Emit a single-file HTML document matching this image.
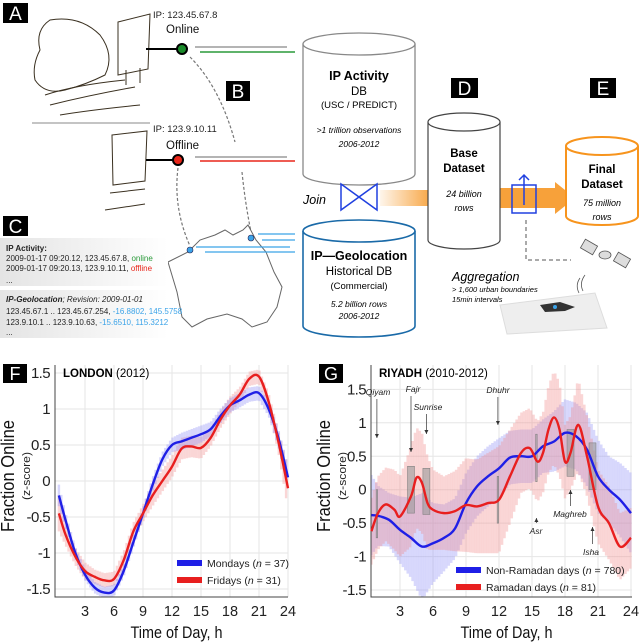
<!DOCTYPE html>
<html><head><meta charset="utf-8">
<style>
html,body{margin:0;padding:0;background:#fff;}
svg{display:block;font-family:"Liberation Sans",sans-serif;}
</style></head>
<body>
<svg id="fig" width="640" height="643" viewBox="0 0 640 643" xmlns="http://www.w3.org/2000/svg">
<defs>
<linearGradient id="og" x1="0" x2="1" y1="0" y2="0"><stop offset="0" stop-color="#f7a13a" stop-opacity="0.1"/><stop offset="1" stop-color="#f7a13a" stop-opacity="0.9"/></linearGradient>
<linearGradient id="cg" x1="0" x2="1"><stop offset="0" stop-color="#e4e4e4"/><stop offset="1" stop-color="#fff"/></linearGradient>
<clipPath id="clipF"><rect x="55" y="365" width="234" height="232"/></clipPath>
<clipPath id="clipG"><rect x="371" y="365" width="262" height="232"/></clipPath>
</defs>
<g><rect x="3" y="3" width="25" height="20" fill="#000"/><text x="15.5" y="20" fill="#fff" font-size="19" text-anchor="middle">A</text></g>
<g><rect x="226" y="81" width="24" height="20" fill="#000"/><text x="238" y="98" fill="#fff" font-size="19" text-anchor="middle">B</text></g>
<g><rect x="3" y="216" width="25" height="20" fill="#000"/><text x="15.5" y="233" fill="#fff" font-size="19" text-anchor="middle">C</text></g>
<g><rect x="451" y="78" width="27" height="20" fill="#000"/><text x="464.5" y="95" fill="#fff" font-size="19" text-anchor="middle">D</text></g>
<g><rect x="590" y="78" width="26" height="20" fill="#000"/><text x="603" y="95" fill="#fff" font-size="19" text-anchor="middle">E</text></g>

<g stroke="#3a3020" fill="none" stroke-width="1">
<path d="M50 20 q-15 10 -10 30 q-8 15 -5 30 q10 15 30 10 q20 -5 40 -15 q10 -20 -5 -40 q-20 -20 -50 -15z"/>
<path d="M45 95 q30 -10 80 -15 M50 105 q40 -10 85 -18 M60 115 q30 -5 80 -10"/>
<path d="M118 22 l32 -8 l-2 55 l-30 6z M126 70 l0 15 M140 68 l0 15"/>
<line x1="32" y1="123" x2="150" y2="123" stroke="#888"/>
<path d="M112 135 l35 -4 l-2 50 l-32 4z M105 210 l40 -6 M110 193 l35 -4"/>
</g>
<g>
<text x="153" y="18" font-size="9.5" fill="#222">IP: 123.45.67.8</text>
<text x="166" y="33" font-size="11.5" fill="#111">Online</text>
<line x1="146" y1="49" x2="177" y2="49" stroke="#000" stroke-width="2"/>
<circle cx="182" cy="49" r="5" fill="#1a8a2a" stroke="#000" stroke-width="2"/>
<line x1="195" y1="47" x2="287" y2="47" stroke="#888" stroke-width="1.3"/>
<line x1="200" y1="52" x2="295" y2="52" stroke="#2a9a3a" stroke-width="1.5"/>
</g>
<g>
<text x="153" y="132" font-size="9.5" fill="#222">IP: 123.9.10.11</text>
<text x="166" y="149" font-size="11.5" fill="#111">Offline</text>
<line x1="146" y1="160" x2="173" y2="160" stroke="#000" stroke-width="2"/>
<circle cx="178" cy="160" r="5" fill="#e8261a" stroke="#000" stroke-width="2"/>
<line x1="195" y1="157" x2="287" y2="157" stroke="#888" stroke-width="1.3"/>
<line x1="200" y1="161" x2="295" y2="161" stroke="#e8261a" stroke-width="1.5"/>
</g>
<g stroke="#777" stroke-dasharray="3,2" fill="none" stroke-width="1.2">
<path d="M190 57 q30 30 45 85"/><path d="M242 172 q3 30 9 60"/><path d="M178 168 q-5 40 12 78"/>
</g>
<path d="M168 262 l20 -10 l12 -12 l15 -5 l10 -5 l8 5 l10 -5 l5 -5 l8 15 l10 12 l8 20 l8 15 l-5 20 l-10 15 l-15 5 l-10 -8 l-15 -5 l-20 5 l-15 8 l-10 -10 l-5 -25z" fill="#fff" stroke="#666" stroke-width="1"/>
<circle cx="190" cy="250" r="3" fill="#3ba3e8" stroke="#225" stroke-width="0.6"/>
<circle cx="251" cy="238" r="3" fill="#3ba3e8" stroke="#225" stroke-width="0.6"/>
<g stroke="#3ba3e8" stroke-width="1.3">
<line x1="258" y1="234" x2="295" y2="234"/><line x1="262" y1="240" x2="295" y2="240"/>
<line x1="196" y1="247" x2="290" y2="247"/><line x1="205" y1="252" x2="295" y2="252"/>
</g>
<g font-size="8" fill="#222">
<rect x="0" y="238" width="168" height="48" fill="url(#cg)"/>
<rect x="0" y="290" width="168" height="48" fill="url(#cg)"/>
<text x="6" y="251" font-weight="bold">IP Activity:</text>
<text x="6" y="261">2009-01-17 09:20.12, 123.45.67.8, <tspan fill="#2a9a3a">online</tspan></text>
<text x="6" y="271">2009-01-17 09:20.13, 123.9.10.11, <tspan fill="#e8261a">offline</tspan></text>
<text x="6" y="283">...</text>
<text x="6" y="302" font-style="italic"><tspan font-weight="bold">IP-Geolocation</tspan>; Revision: 2009-01-01</text>
<text x="6" y="314">123.45.67.1 .. 123.45.67.254, <tspan fill="#3ba3e8">-16.8802, 145.5758</tspan></text>
<text x="6" y="325">123.9.10.1 .. 123.9.10.63, <tspan fill="#3ba3e8">-15.6510, 115.3212</tspan></text>
<text x="6" y="335">...</text>
</g>

<g text-anchor="middle">
<path d="M303 44 v130 a56 11 0 0 0 112 0 v-130" fill="#fff" stroke="#888" stroke-width="1.3"/>
<ellipse cx="359" cy="44" rx="56" ry="11" fill="#fff" stroke="#888" stroke-width="1.3"/>
<text x="359" y="80" font-size="12.5" font-weight="bold">IP Activity</text>
<text x="359" y="95" font-size="11.5">DB</text>
<text x="359" y="108" font-size="9.5">(USC / PREDICT)</text>
<text x="359" y="133" font-size="8.5" font-style="italic">&gt;1 trillion observations</text>
<text x="359" y="147" font-size="8.5" font-style="italic">2006-2012</text>
</g>
<g text-anchor="middle">
<path d="M303 231 v95 a56 11 0 0 0 112 0 v-95" fill="#fff" stroke="#1a6aa8" stroke-width="1.6"/>
<ellipse cx="359" cy="231" rx="56" ry="11" fill="#fff" stroke="#1a6aa8" stroke-width="1.6"/>
<text x="359" y="260" font-size="12.5" font-weight="bold">IP—Geolocation</text>
<text x="359" y="275" font-size="11.5">Historical DB</text>
<text x="359" y="289" font-size="9.5">(Commercial)</text>
<text x="359" y="307" font-size="8.5" font-style="italic">5.2 billion rows</text>
<text x="359" y="319" font-size="8.5" font-style="italic">2006-2012</text>
</g>
<text x="303" y="204" font-size="12.5" font-style="italic">Join</text>
<path d="M341 184 L377 210 L377 184 L341 210 Z" fill="none" stroke="#2040e0" stroke-width="1.5"/>
<rect x="380" y="190" width="48" height="16" fill="url(#og)"/>
<path d="M500 188 h55 v-6 l20 16 l-20 16 v-6 h-55z" fill="#f7a13a"/>
<g text-anchor="middle">
<path d="M428 122 v118 a36 9 0 0 0 72 0 v-118" fill="#fff" stroke="#444" stroke-width="1.2"/>
<ellipse cx="464" cy="122" rx="36" ry="9" fill="#fff" stroke="#444" stroke-width="1.2"/>
<text x="464" y="157" font-size="11.5" font-weight="bold">Base</text>
<text x="464" y="172" font-size="11.5" font-weight="bold">Dataset</text>
<text x="464" y="197" font-size="9" font-style="italic">24 billion</text>
<text x="464" y="211" font-size="9" font-style="italic">rows</text>
</g>
<path d="M512 185 h24 v28 h-24z M524 205 v-30 M519 180 l5 -5 l5 5" fill="none" stroke="#2040e0" stroke-width="1.5"/>
<g text-anchor="middle">
<path d="M566 146 v70 a36 9 0 0 0 72 0 v-70" fill="#fff" stroke="#f7941d" stroke-width="2"/>
<ellipse cx="602" cy="146" rx="36" ry="9" fill="#fff" stroke="#f7941d" stroke-width="2"/>
<text x="602" y="173" font-size="11.5" font-weight="bold">Final</text>
<text x="602" y="188" font-size="11.5" font-weight="bold">Dataset</text>
<text x="602" y="206" font-size="9" font-style="italic">75 million</text>
<text x="602" y="220" font-size="9" font-style="italic">rows</text>
</g>
<path d="M526 220 v40 h45" fill="none" stroke="#555" stroke-dasharray="4,3"/>
<g fill="#ddd" stroke="#555" stroke-width="0.8">
<rect x="582" y="242" width="14" height="10" transform="rotate(30 589 247)"/>
<rect x="615" y="255" width="14" height="10" transform="rotate(30 622 260)"/>
<ellipse cx="605" cy="255" rx="6" ry="4"/>
<path d="M585 275 q-6 8 -2 16 M580 278 q-5 7 -1 15" fill="none"/>
</g>
<text x="452" y="281" font-size="12.5" font-style="italic">Aggregation</text>
<text x="452" y="292" font-size="7.5" font-style="italic">&gt; 1,600 urban boundaries</text>
<text x="452" y="302" font-size="7.5" font-style="italic">15min intervals</text>
<path d="M500 305 l95 -12 l12 35 l-100 6z" fill="#eee" stroke="#ddd"/>
<path d="M540 305 l20 -3 l15 5 l-10 4 l-20 1z" fill="#333"/>
<circle cx="555" cy="307" r="2" fill="#3ba3e8"/>

<g id="chartF"></g>
<g id="chartG"></g>
</svg>
<script>
// ---- Chart F: London ----
const fHours = [0.3,1,2,3,4,5,6,7,8,9,10,11,12,13,14,15,16,17,18,19,20,21,22,23,24];
const fMondays = [-0.2,-0.55,-1.0,-1.3,-1.48,-1.55,-1.52,-1.25,-0.85,-0.45,-0.05,0.3,0.5,0.55,0.6,0.65,0.72,0.9,1.05,1.12,1.2,1.22,1.0,0.6,0.05];
const fFridays = [-0.45,-0.75,-1.05,-1.25,-1.33,-1.38,-1.36,-1.1,-0.7,-0.45,-0.2,0.0,0.2,0.45,0.48,0.46,0.6,0.85,1.05,1.2,1.42,1.45,1.1,0.55,-0.1];
const fMonErr = [0.15,0.1,0.08,0.08,0.08,0.08,0.08,0.08,0.08,0.08,0.1,0.1,0.1,0.12,0.12,0.12,0.1,0.1,0.1,0.1,0.1,0.1,0.1,0.12,0.15];
const fFriErr = [0.25,0.15,0.12,0.12,0.1,0.1,0.1,0.12,0.12,0.12,0.15,0.15,0.15,0.15,0.15,0.15,0.12,0.12,0.12,0.1,0.1,0.1,0.12,0.15,0.3];
const fXTicks = [3,6,9,12,15,18,21,24];
const fYTicks = [-1.5,-1,-0.5,0,0.5,1,1.5];
const fLegend = ["Mondays (n = 37)","Fridays (n = 31)"];

// ---- Chart G: Riyadh ----
const gHours = [0.4,1,2,3,4,5,6,7,8,9,10,11,12,13,14,15,16,17,18,19,20,21,22,23,24];
const gNonRamadan = [-0.38,-0.39,-0.45,-0.6,-0.72,-0.85,-0.8,-0.72,-0.58,-0.2,0.05,0.2,0.32,0.48,0.5,0.5,0.65,0.72,0.85,0.8,0.6,0.2,0.0,-0.15,-0.35];
const gNonErr = [0.6,0.45,0.4,0.5,0.6,0.8,0.6,0.5,0.45,0.45,0.45,0.45,0.45,0.4,0.4,0.4,0.4,0.45,0.5,0.5,0.55,0.55,0.5,0.55,0.6];
const gRamHours = [0.4,1,1.7,2.5,3,4,4.5,5,5.5,6,7,8,9,10,11,12,13,14,14.8,15.5,16,16.5,17,17.5,18,18.5,19.2,20,21,22,23,24];
const gRamadan = [-0.62,-0.35,-0.22,-0.3,-0.4,-0.1,0.18,0.1,-0.2,-0.3,-0.35,-0.32,-0.23,-0.25,-0.2,-0.15,0.2,0.55,0.62,0.42,0.55,0.9,1.08,0.9,0.42,0.55,0.97,0.5,-0.25,-0.5,-0.85,-0.72];
const gRamErr = [0.5,0.55,0.55,0.6,0.6,0.75,0.75,0.75,0.7,0.6,0.55,0.6,0.7,0.7,0.75,0.8,0.7,0.6,0.6,0.6,0.6,0.65,0.7,0.7,0.55,0.55,0.7,0.6,0.55,0.55,0.5,0.45];
const gXTicks = [3,6,9,12,15,18,21,24];
const gYTicks = [-1.5,-1,-0.5,0,0.5,1,1.5];
const gLegend = ["Non-Ramadan days (n = 780)","Ramadan days (n = 81)"];
const prayerNames = ["Qiyam","Fajr","Sunrise","Dhuhr","Asr","Maghreb","Isha"];
const prayerHours = [0.9,4.0,5.4,11.9,15.4,18.5,20.5];
const prayerLo = [-0.72,-0.35,-0.37,-0.5,0.12,0.2,0.0];
const prayerHi = [0.0,0.35,0.32,0.2,0.83,0.9,0.7];

const NS="http://www.w3.org/2000/svg";
function mk(parent,tag,attrs){const e=document.createElementNS(NS,tag);for(const k in attrs)e.setAttribute(k,attrs[k]);parent.appendChild(e);return e;}
function smooth(pts){let d="M"+pts[0][0]+" "+pts[0][1];for(let i=0;i<pts.length-1;i++){const p0=pts[Math.max(0,i-1)],p1=pts[i],p2=pts[i+1],p3=pts[Math.min(pts.length-1,i+2)];const c1x=p1[0]+(p2[0]-p0[0])/6,c1y=p1[1]+(p2[1]-p0[1])/6,c2x=p2[0]-(p3[0]-p1[0])/6,c2y=p2[1]-(p3[1]-p1[1])/6;d+=" C"+c1x+" "+c1y+" "+c2x+" "+c2y+" "+p2[0]+" "+p2[1];}return d;}
function interp(xs,ys,x){if(x<=xs[0])return ys[0];for(let i=0;i<xs.length-1;i++){if(x<=xs[i+1]){const t=(x-xs[i])/(xs[i+1]-xs[i]);return ys[i]+t*(ys[i+1]-ys[i]);}}return ys[ys.length-1];}

function drawAxes(g,X,Y,L,R,T,B,xt,yt,title,sub,letter){
  mk(g,"rect",{x:L,y:T,width:R-L,height:B-T,fill:"#fff"});
  xt.forEach(v=>{const l=mk(g,"line",{x1:X(v),x2:X(v),y1:T,y2:B,stroke:"#e6e6e6"});});
  yt.forEach(v=>{const l=mk(g,"line",{x1:L,x2:R,y1:Y(v),y2:Y(v),stroke:"#e6e6e6"});});
  xt.forEach(v=>{const t=mk(g,"text",{x:X(v),y:B+19,"font-size":14.5,"text-anchor":"middle",fill:"#222"});t.textContent=v;});
  yt.forEach(v=>{const t=mk(g,"text",{x:L-5,y:Y(v)+5,"font-size":15,"letter-spacing":-0.6,"text-anchor":"end",fill:"#222"});t.textContent=String(v);});
  const xl=mk(g,"text",{x:(L+R)/2+5,y:B+41,"font-size":17,"text-anchor":"middle",fill:"#111",textLength:92,lengthAdjust:"spacingAndGlyphs"});xl.textContent="Time of Day, h";
  
  
  const yl=mk(g,"text",{x:0,y:0,"font-size":18,"text-anchor":"middle",fill:"#111",textLength:112,lengthAdjust:"spacingAndGlyphs",transform:`translate(${L-41},${(T+B)/2-5}) rotate(-90)`});yl.textContent="Fraction Online";
  
  
  const ys=mk(g,"text",{x:0,y:0,"font-size":11,"text-anchor":"middle",fill:"#222",textLength:48,lengthAdjust:"spacingAndGlyphs",transform:`translate(${L-25},${(T+B)/2-5}) rotate(-90)`});ys.textContent="(z-score)";
  
  
  const lb=mk(g,"rect",{x:L-52,y:T-1,width:24,height:19,fill:"#000"});
  
  
  const lt=mk(g,"text",{x:L-40,y:T+15,"font-size":18,fill:"#fff","text-anchor":"middle"});lt.textContent=letter;
  const tt=mk(g,"text",{x:L+8,y:T+12,"font-size":11.5,fill:"#000"});
  
  
  const tb=mk(tt,"tspan",{"font-weight":"bold"});tb.textContent=title;const ts=mk(tt,"tspan",{});ts.textContent=" "+sub;
}
function band(g,X,Y,xs,ys,es,color,op,step,w,name){
  const x0=xs[0],x1=xs[xs.length-1];
  for(let h=x0;h<=x1+1e-9;h+=step){const v=interp(xs,ys,h),e=interp(xs,es,h);
    const l=mk(g,"line",{x1:X(h),x2:X(h),y1:Y(v+e),y2:Y(v-e),stroke:color,"stroke-opacity":op,"stroke-width":w});
    
    }
}
function line(g,X,Y,xs,ys,color,name){const p=mk(g,"path",{d:smooth(xs.map((h,i)=>[X(h),Y(ys[i])])),fill:"none",stroke:color,"stroke-width":2.4});
  
  }
function legend(g,x,y,labels){const cols=["#1f1fe6","#e81f1f"];labels.forEach((s,i)=>{const r=mk(g,"rect",{x:x,y:y+i*17-4,width:25,height:6,fill:cols[i]});
  const t=mk(g,"text",{x:x+30,y:y+i*17+3,"font-size":10.5,fill:"#222"});
  const a=mk(t,"tspan",{});a.textContent=s.slice(0,s.indexOf("(n")+1);const b=mk(t,"tspan",{"font-style":"italic"});b.textContent="n";const c=mk(t,"tspan",{});c.textContent=s.slice(s.indexOf("(n")+2);});}
function axisLine(g,L,R,T,B){const ax=mk(g,"path",{d:`M${L} ${T} V${B} H${R}`,fill:"none",stroke:"#444","stroke-width":1});
  
  }

// F
(function(){
  const g=document.getElementById("chartF");
  const L=55,R=288,T=365,B=597;
  const X=h=>56+h*(288-56)/24, Y=v=>481-v*72;
  drawAxes(g,X,Y,L,R,T,B,fXTicks,fYTicks,"LONDON","(2012)","F");
  const cg=mk(g,"g",{"clip-path":"url(#clipF)"});
  band(cg,X,Y,fHours,fFridays,fFriErr,"#f08a8a",0.35,0.25,2.4,"fridays-error-band");
  band(cg,X,Y,fHours,fMondays,fMonErr,"#8a8af5",0.35,0.25,2.4,"mondays-error-band");
  line(g,X,Y,fHours,fMondays,"#1f1fe6","mondays-line");
  line(g,X,Y,fHours,fFridays,"#e81f1f","fridays-line");
  axisLine(g,L,R,T,B);
  legend(g,177,564,fLegend);
})();
// G
(function(){
  const g=document.getElementById("chartG");
  const L=371,R=632,T=365,B=597;
  const X=h=>367+h*(631-367)/24, Y=v=>489.7-v*66.9;
  drawAxes(g,X,Y,L,R,T,B,gXTicks,gYTicks,"RIYADH","(2010-2012)","G");
  const cg=mk(g,"g",{"clip-path":"url(#clipG)"});
  band(cg,X,Y,gHours,gNonRamadan,gNonErr,"#9090f5",0.35,0.22,2.5,"non-ramadan-error-band");
  band(cg,X,Y,gRamHours,gRamadan,gRamErr,"#f08a8a",0.35,0.22,2.5,"ramadan-error-band");
  axisLine(g,L,R,T,B);
  prayerHours.forEach((h,i)=>{const w=(i===0||i===3||i===4)?1.5:7;
    const r=mk(g,"rect",{x:X(h)-w/2,y:Y(prayerHi[i]),width:w,height:Y(prayerLo[i])-Y(prayerHi[i]),fill:"#999","fill-opacity":0.6,stroke:"#777","stroke-width":0.5});
    
    });
  line(g,X,Y,gHours,gNonRamadan,"#1f1fe6","non-ramadan-line");
  line(g,X,Y,gRamHours,gRamadan,"#e81f1f","ramadan-line");
  const ann=[[378,395,438],[413,392,452],[428,410,434],[498,393,425],[536,534,518],[570,517,490],[591,555,527]];
  prayerNames.forEach((n,i)=>{const a=ann[i];const tx=a[0],ty=a[1],ay=a[2];
    const t=mk(g,"text",{x:tx,y:ty,"font-size":8.5,"font-style":"italic",fill:"#222","text-anchor":"middle"});t.textContent=n;
    
    
    const lx=X(prayerHours[i]);
    if(i<4){mk(g,"line",{x1:lx,x2:lx,y1:ty+4,y2:ay,stroke:"#333","stroke-width":0.7});mk(g,"path",{d:`M${lx-2} ${ay-4} L${lx} ${ay} L${lx+2} ${ay-4}`,fill:"#333"});}
    else{mk(g,"line",{x1:lx,x2:lx,y1:ty-11,y2:ay,stroke:"#333","stroke-width":0.7});mk(g,"path",{d:`M${lx-2} ${ay+4} L${lx} ${ay} L${lx+2} ${ay+4}`,fill:"#333"});}
  });
  legend(g,456,571,gLegend);
})();
</script>
</body></html>
